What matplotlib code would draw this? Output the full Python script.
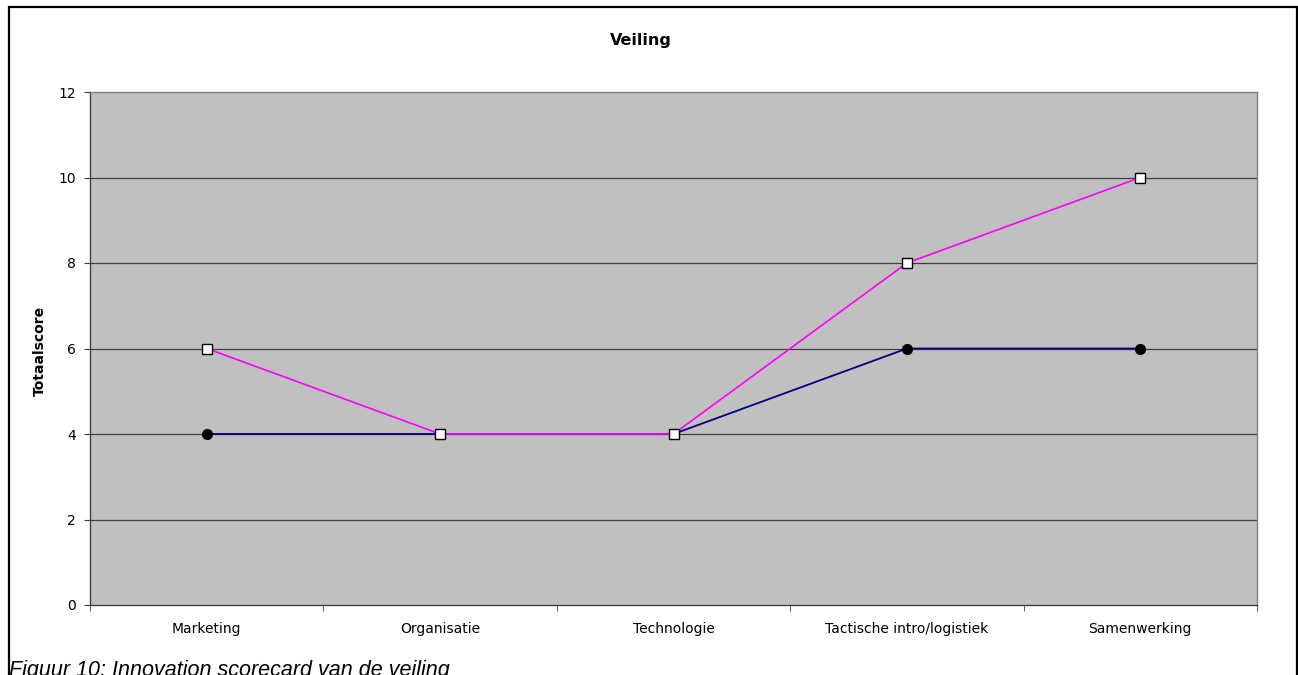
import matplotlib
matplotlib.use("Agg")
import matplotlib.pyplot as plt
from matplotlib.patches import Rectangle

categories = ["Marketing", "Organisatie", "Technologie", "Tactische intro/logistiek", "Samenwerking"]
huidig = [4, 4, 4, 6, 6]
gewenst = [6, 4, 4, 8, 10]
y_ticks = [0, 2, 4, 6, 8, 10, 12]

plt.rcParams['font.family'] = ['DejaVu Sans']

W, H = 1298, 675
fig = plt.figure(figsize=(W / 100, H / 100), dpi=100)

# outer chart frame (bottom edge runs below the figure)
fig.patches.append(Rectangle((9.0 / W, -0.05), (1296.5 - 9.0) / W, 1.05 - 6.5 / H,
                             transform=fig.transFigure, fill=False,
                             edgecolor='black', linewidth=1.6, zorder=0))

left, right, top, bottom = 90, 1257, 92, 605
ax = fig.add_axes([left / W, 1 - bottom / H, (right - left) / W, (bottom - top) / H])
ax.set_facecolor('#C0C0C0')

x = list(range(len(categories)))
ax.set_xlim(-0.5, len(categories) - 0.5)
ax.set_ylim(0, 12)

for y in y_ticks[1:-1]:
    ax.axhline(y, color='#404040', linewidth=0.9, zorder=1)

ax.plot(x, huidig, color='#000080', linewidth=1.3, marker='o', markersize=7,
        markerfacecolor='black', markeredgecolor='black', zorder=3)
ax.plot(x, gewenst, color='#FF00FF', linewidth=1.2, marker='s', markersize=6.5,
        markerfacecolor='white', markeredgecolor='black', markeredgewidth=1.0, zorder=4)

ax.set_yticks(y_ticks)
ax.set_yticklabels([str(v) for v in y_ticks], fontsize=10)
ax.set_xticks(x)
ax.set_xticklabels(categories, fontsize=10)
ax.set_xticks([i - 0.5 for i in range(len(categories) + 1)], minor=True)
ax.tick_params(axis='x', which='major', length=0, pad=12)
ax.tick_params(axis='x', which='minor', length=4, direction='out', color='#404040')
ax.tick_params(axis='y', length=4, direction='out', color='#404040', pad=6)

for side in ['left', 'bottom']:
    ax.spines[side].set_color('#404040')
    ax.spines[side].set_linewidth(1.0)
for side in ['top', 'right']:
    ax.spines[side].set_color('#808080')
    ax.spines[side].set_linewidth(1.0)

fig.text(40 / W, 1 - 351 / H, "Totaalscore", fontsize=10, fontweight='bold',
         rotation=90, ha='center', va='center')
fig.text(641 / W, 1 - 41 / H, "Veiling", fontsize=11.5, fontweight='bold',
         ha='center', va='center')
fig.text(9 / W, 1 - 676 / H, "Figuur 10: Innovation scorecard van de veiling",
         fontsize=15.5, style='italic', ha='left', va='baseline',
         family=['Liberation Sans', 'DejaVu Sans'])

fig.savefig("out.png", dpi=100, facecolor='white')
